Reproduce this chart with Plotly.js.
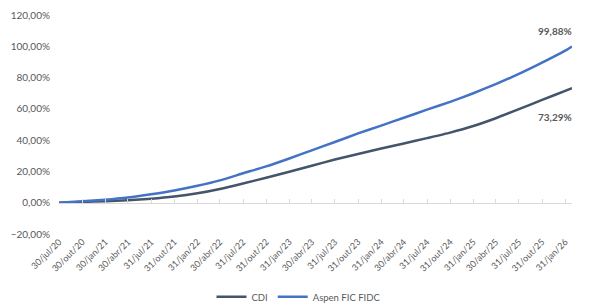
<!DOCTYPE html>
<html>
<head>
<meta charset="utf-8">
<script src="https://cdn.plot.ly/plotly-3.0.1.min.js"></script>
<style>html,body{margin:0;padding:0;background:#fff;}#chart{width:597px;height:307px;}</style>
</head>
<body>
<div id="chart"></div>
<script>
// Data (cumulative return, %)
const dates = ["2020-07-30","2020-10-30","2021-01-30","2021-04-30","2021-07-31","2021-10-31","2022-01-31","2022-04-30","2022-07-31","2022-10-31","2023-01-31","2023-04-30","2023-07-31","2023-10-31","2024-01-31","2024-04-30","2024-07-31","2024-10-31","2025-01-31","2025-04-30","2025-07-31","2025-10-31","2026-01-31","2026-02-27"];
const cdi   = [0, 0.5, 1.0, 1.6, 2.5, 3.9, 6.0, 8.8, 12.3, 16.0, 19.8, 23.6, 27.6, 31.2, 34.6, 37.9, 41.3, 44.8, 49.0, 54.0, 59.8, 65.7, 71.5, 73.29];
const aspen = [0, 0.9, 1.9, 3.3, 5.4, 7.8, 10.8, 14.3, 18.8, 23.2, 28.3, 33.5, 38.8, 44.3, 49.3, 54.3, 59.5, 64.5, 70.0, 75.8, 82.3, 89.5, 97.2, 99.88];
const tickDates = ["2020-07-30","2020-10-30","2021-01-30","2021-04-30","2021-07-31","2021-10-31","2022-01-31","2022-04-30","2022-07-31","2022-10-31","2023-01-31","2023-04-30","2023-07-31","2023-10-31","2024-01-31","2024-04-30","2024-07-31","2024-10-31","2025-01-31","2025-04-30","2025-07-31","2025-10-31","2026-01-31"];
const tickLabels = ["30/jul/20","30/out/20","30/jan/21","30/abr/21","31/jul/21","31/out/21","31/jan/22","30/abr/22","31/jul/22","31/out/22","31/jan/23","30/abr/23","31/jul/23","31/out/23","31/jan/24","30/abr/24","31/jul/24","31/out/24","31/jan/25","30/abr/25","31/jul/25","31/out/25","31/jan/26"];
const seriesNames = ["CDI", "Aspen FIC FIDC"];
const yMin = -20, yMax = 120;

const FONT = "Lato, 'Open Sans', sans-serif";
const GRAY = "#595959";
const cCDI = "#44546A", cAspen = "#4472C4";

const fmt = v => v.toFixed(2).replace(".", ",") + "%";
const last = dates.length - 1;

const traces = [
  {x: dates, y: cdi, name: seriesNames[0], type: "scatter", mode: "lines",
   line: {color: cCDI, width: 2.5, shape: "spline", smoothing: 0.5}, hoverinfo: "skip"},
  {x: dates, y: aspen, name: seriesNames[1], type: "scatter", mode: "lines",
   line: {color: cAspen, width: 2.5, shape: "spline", smoothing: 0.5}, hoverinfo: "skip"},
  {x: [dates[0]], y: [null], xaxis: "x2", showlegend: false, hoverinfo: "skip", mode: "lines"}
];

const layout = {
  width: 597, height: 307,
  margin: {l: 59, r: 25, t: 15, b: 73},
  paper_bgcolor: "#fff", plot_bgcolor: "#fff",
  separators: ",.",
  font: {family: FONT, size: 10, color: GRAY},
  showlegend: true,
  legend: {orientation: "h", x: 0.5, xanchor: "center", xref: "container", yref: "container", y: 0.033, yanchor: "middle",
           font: {family: FONT, size: 9.5, color: GRAY}, itemwidth: 30, tracegroupgap: 0},
  xaxis: {type: "date", range: [dates[0], dates[last]], tickvals: tickDates, ticktext: tickLabels,
          tickangle: -45, showgrid: false, zeroline: false, showline: false, ticks: "",
          tickfont: {family: FONT, size: 9, color: "#595959"}, fixedrange: true},
  xaxis2: {type: "date", overlaying: "x", anchor: "free", position: (0 - yMin) / (yMax - yMin),
           range: [dates[0], dates[last]], tickvals: tickDates, showticklabels: false,
           showline: true, linecolor: "#d9d9d9", linewidth: 1, ticks: "inside", ticklen: 4,
           tickcolor: "#d9d9d9", showgrid: false, zeroline: false},
  yaxis: {range: [yMin, yMax], dtick: 20, tick0: 0, tickformat: ".2f", ticksuffix: "%",
          showgrid: false, zeroline: false, showline: false, ticks: "", ticklabelstandoff: 8,
          tickfont: {family: FONT, size: 10, color: GRAY}, fixedrange: true},
  annotations: [
    {x: dates[last], y: aspen[last], text: "<b>" + fmt(aspen[last]) + "</b>", showarrow: false,
     xanchor: "right", yanchor: "bottom", yshift: 7, xshift: 2, font: {family: FONT, size: 10, color: GRAY}},
    {x: dates[last], y: cdi[last], text: "<b>" + fmt(cdi[last]) + "</b>", showarrow: false,
     xanchor: "right", yanchor: "top", yshift: -21, xshift: 2, font: {family: FONT, size: 10, color: GRAY}}
  ]
};

Plotly.newPlot("chart", traces, layout, {displayModeBar: false, staticPlot: true});
</script>
</body>
</html>
